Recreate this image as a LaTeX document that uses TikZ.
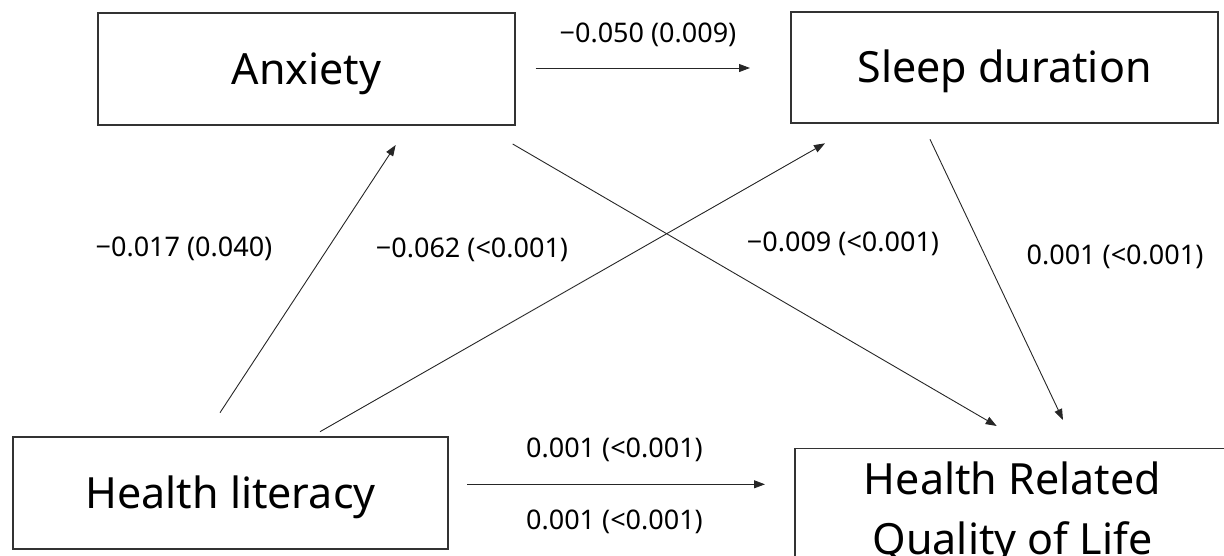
\documentclass[tikz,border=0pt]{standalone}
\usepackage{fontspec}
\setmainfont{Noto Sans}
\usetikzlibrary{arrows.meta}
\begin{document}
\begin{tikzpicture}[x=1pt,y=-1pt,
  box/.style={draw=black!80,line width=1.2pt,inner sep=0pt,
    font=\fontsize{43}{60}\selectfont,text height=30.7pt,text depth=0pt},
  lab/.style={font=\fontsize{27}{32}\selectfont,inner sep=0pt,text height=19.3pt,text depth=0pt},
  conn/.style={draw=black!85,line width=0.9pt,-{Triangle[length=11pt,width=8pt]}}]
\useasboundingbox (0,0) rectangle (1224,555);
\clip (0,0) rectangle (1224,555);
% boxes
\node[box,minimum width=417pt,minimum height=112pt] (anx) at (306.5,69) {Anxiety};
\node[box,minimum width=427pt,minimum height=111pt] (sleep) at (1004.5,67.5) {Sleep duration};
\node[box,minimum width=435pt,minimum height=112pt] (hl) at (230.5,493) {Health literacy};
\node[box,anchor=north,minimum width=435pt,align=center,
  font=\fontsize{43}{60}\selectfont,
  text height=,text depth=,inner ysep=13pt] (hrql) at (1012.5,448) {Health Related\\Quality of Life};
% connector end points
\coordinate (a1) at (535.7,68);   \coordinate (s1) at (750,68);
\coordinate (h1) at (220,412.7);  \coordinate (a2) at (395.7,145);
\coordinate (h2) at (320,431.7);  \coordinate (s2) at (825,143.3);
\coordinate (a3) at (512.7,144);  \coordinate (q1) at (996.7,426);
\coordinate (s3) at (930,139.3);  \coordinate (q2) at (1063,420);
\coordinate (h3) at (467,484.3);  \coordinate (q3) at (765,484.3);
% connectors
\draw[conn] (a1) -- (s1);
\draw[conn] (h1) -- (a2);
\draw[conn] (h2) -- (s2);
\draw[conn] (a3) -- (q1);
\draw[conn] (s3) -- (q2);
\draw[conn] (h3) -- (q3);
% labels
\node[lab] (l1) at (648,33) {−0.050 (0.009)};
\node[lab] (l2) at (184,246.7) {−0.017 (0.040)};
\node[lab] (l3) at (472,248) {−0.062 (<0.001)};
\node[lab] (l4) at (843,242) {−0.009 (<0.001)};
\node[lab] (l5) at (1115,255) {0.001 (<0.001)};
\node[lab] (l6) at (614.5,448) {0.001 (<0.001)};
\node[lab] (l7) at (614.5,520) {0.001 (<0.001)};
\end{tikzpicture}
\end{document}
